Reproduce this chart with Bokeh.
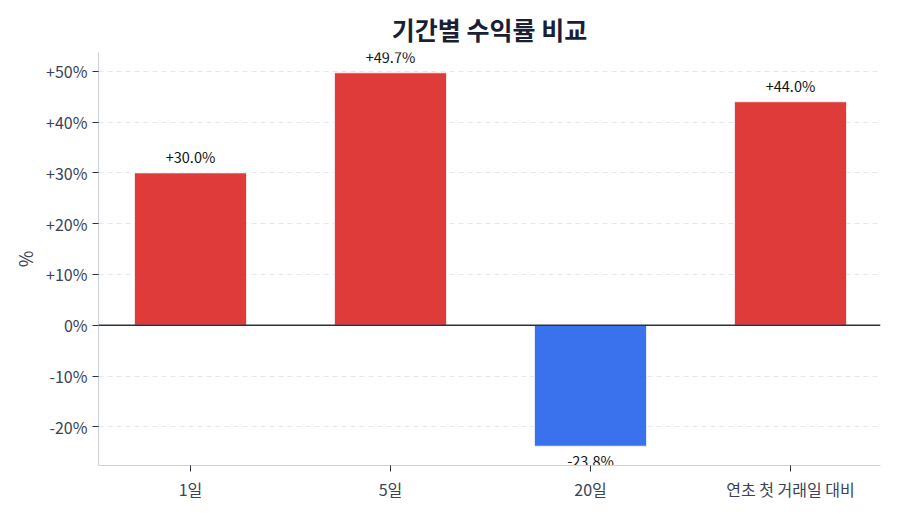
from bokeh.plotting import figure
from bokeh.models import ColumnDataSource, Range1d, FixedTicker, Span
from bokeh.embed import file_html
from bokeh.resources import INLINE
from bokeh.core.properties import value

categories = ["1일", "5일", "20일", "연초 첫 거래일 대비"]
returns = [30.0, 49.7, -23.8, 44.0]
y_ticks = [-20, -10, 0, 10, 20, 30, 40, 50]

FONT = "Noto Sans CJK KR"
RED = "#DC2626"
BLUE = "#2563EB"

xs = list(range(len(categories)))
colors = [RED if v >= 0 else BLUE for v in returns]
labels = [("+" if v > 0 else "") + f"{v:.1f}%" for v in returns]

pos_src = ColumnDataSource(dict(
    x=[x for x, v in zip(xs, returns) if v >= 0],
    y=[v for v in returns if v >= 0],
    t=[l for l, v in zip(labels, returns) if v >= 0]))
neg_src = ColumnDataSource(dict(
    x=[x for x, v in zip(xs, returns) if v < 0],
    y=[v for v in returns if v < 0],
    t=[l for l, v in zip(labels, returns) if v < 0]))
src = ColumnDataSource(dict(x=xs, top=returns, color=colors))

p = figure(width=900, height=514, output_backend="svg", toolbar_location=None,
           x_range=Range1d(-0.46, 3.45), y_range=Range1d(-27.6, 53.7),
           title="기간별 수익률 비교")
p.min_border_left = 98
p.min_border_right = 20
p.min_border_top = 52
p.min_border_bottom = 49
p.outline_line_color = None
p.background_fill_color = "white"
p.border_fill_color = "white"

p.title.align = "center"
p.title.text_font = FONT
p.title.text_font_size = "25px"
p.title.text_font_style = "bold"
p.title.text_color = "#1A1F36"
p.title.standoff = 12

p.vbar(x="x", top="top", bottom=0, width=0.56, fill_color="color", fill_alpha=0.9,
       source=src, line_color="white", line_width=1, line_alpha=0.7)

p.add_layout(Span(location=0, dimension="width", line_color="#2B3142", line_width=1.5))

p.text(x="x", y="y", text="t", source=pos_src, text_align="center", text_baseline="bottom",
       y_offset=-6, text_font=value(FONT), text_font_size="14.5px", text_color="#111111")
p.text(x="x", y="y", text="t", source=neg_src, text_align="center", text_baseline="top",
       y_offset=4, text_font=value(FONT), text_font_size="14.5px", text_color="#111111")

p.xgrid.grid_line_color = None
p.ygrid.grid_line_color = "#E5E7EB"
p.ygrid.grid_line_dash = "5 4"
p.ygrid.ticker = FixedTicker(ticks=[t for t in y_ticks if t != 0])

p.yaxis.ticker = FixedTicker(ticks=y_ticks)
p.yaxis.major_label_overrides = {t: (("+" if t > 0 else "") + f"{t}%") for t in y_ticks}
p.xaxis.ticker = FixedTicker(ticks=xs)
p.xaxis.major_label_overrides = {x: c for x, c in zip(xs, categories)}

for ax in (p.xaxis[0], p.yaxis[0]):
    ax.axis_line_color = "#CDD2DE"
    ax.axis_line_width = 1.2
    ax.major_tick_line_color = "#2B3142"
    ax.major_tick_out = 6
    ax.major_tick_in = 0
    ax.minor_tick_line_color = None
    ax.major_label_text_font = FONT
    ax.major_label_text_font_size = "16px"
    ax.major_label_text_color = "#3A4256"

p.yaxis.axis_label = "%"
p.yaxis.axis_label_text_font = FONT
p.yaxis.axis_label_text_font_size = "18px"
p.yaxis.axis_label_text_font_style = "normal"
p.yaxis.axis_label_text_color = "#3A4256"
p.yaxis.major_label_standoff = 5
p.xaxis.major_label_standoff = 5

open("out.html", "w").write(file_html(p, INLINE))
